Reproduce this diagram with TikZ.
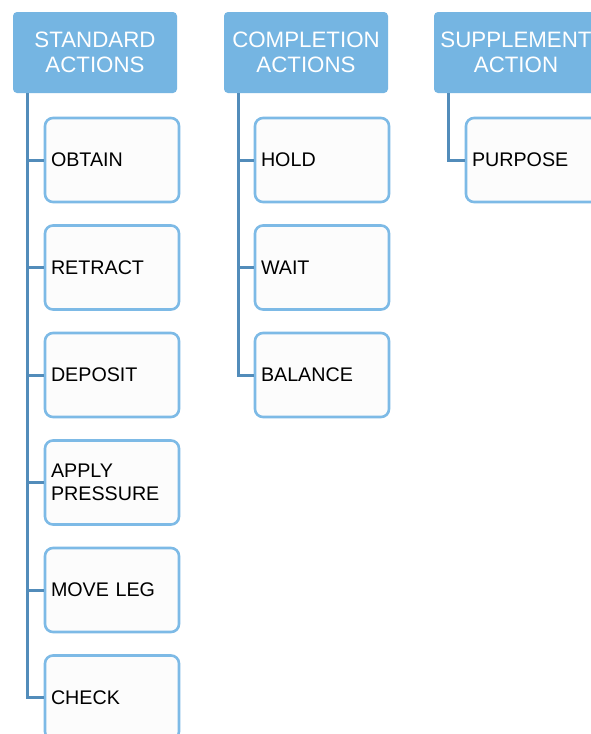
\documentclass[tikz,border=0pt]{standalone}
\usepackage{fontspec}
\setmainfont{Liberation Sans}
\usepackage{tikz}

\begin{document}
\begin{tikzpicture}[x=1pt, y=-1pt,
    head/.style={rectangle, rounded corners=4pt, fill=hdblue, text=white,
      minimum width=164pt, minimum height=81pt, align=center,
      font=\fontsize{22.3}{25}\selectfont},
    item/.style={rectangle, rounded corners=8pt, draw=bxblue, line width=2.6pt,
      fill=bxfill, minimum width=134pt, minimum height=84pt, text width=122pt,
      inner xsep=5pt, align=left, font=\fontsize{19.7}{23}\selectfont},
    conn/.style={draw=lnblue, line width=3pt}]
    \definecolor{hdblue}{RGB}{117,181,226}   % header fill
    \definecolor{bxblue}{RGB}{125,186,230}   % box border
    \definecolor{bxfill}{RGB}{252,252,252}   % box fill
    \definecolor{lnblue}{RGB}{82,140,186}    % connectors

    \clip (0,0) rectangle (591,734);
    \fill[white] (0,0) rectangle (591,734);

    % headers
    \node (std) at (95,52.5) [head] {STANDARD\\ACTIONS};
    \node (cmp) at (306,52.5) [head] {COMPLETION\\ACTIONS};
    \node (sup) at (516,52.5) [head] {SUPPLEMENT\\ACTION};

    % standard actions
    \node (obtain) at (112,160) [item] {OBTAIN};
    \node (retract) at (112,267.5) [item] {RETRACT};
    \node (deposit) at (112,375) [item] {DEPOSIT};
    \node (apply) at (112,482.5) [item] {APPLY\\PRESSURE};
    \node (moveleg) at (112,590) [item] {MOVE LEG};
    \node (check) at (112,697.5) [item] {CHECK};

    % completion actions
    \node (hold) at (322,160) [item] {HOLD};
    \node (wait) at (322,267.5) [item] {WAIT};
    \node (balance) at (322,375) [item] {BALANCE};

    % supplement action
    \node (purpose) at (533,160) [item] {PURPOSE};

    \draw[conn] ([xshift=15pt]std.south west) |- (obtain.west);
    \draw[conn] ([xshift=15pt]std.south west) |- (retract.west);
    \draw[conn] ([xshift=15pt]std.south west) |- (deposit.west);
    \draw[conn] ([xshift=15pt]std.south west) |- (apply.west);
    \draw[conn] ([xshift=15pt]std.south west) |- (moveleg.west);
    \draw[conn] ([xshift=15pt]std.south west) |- (check.west);

    \draw[conn] ([xshift=15pt]cmp.south west) |- (hold.west);
    \draw[conn] ([xshift=15pt]cmp.south west) |- (wait.west);
    \draw[conn] ([xshift=15pt]cmp.south west) |- (balance.west);

    \draw[conn] ([xshift=15pt]sup.south west) |- (purpose.west);
  \end{tikzpicture}
\end{document}
